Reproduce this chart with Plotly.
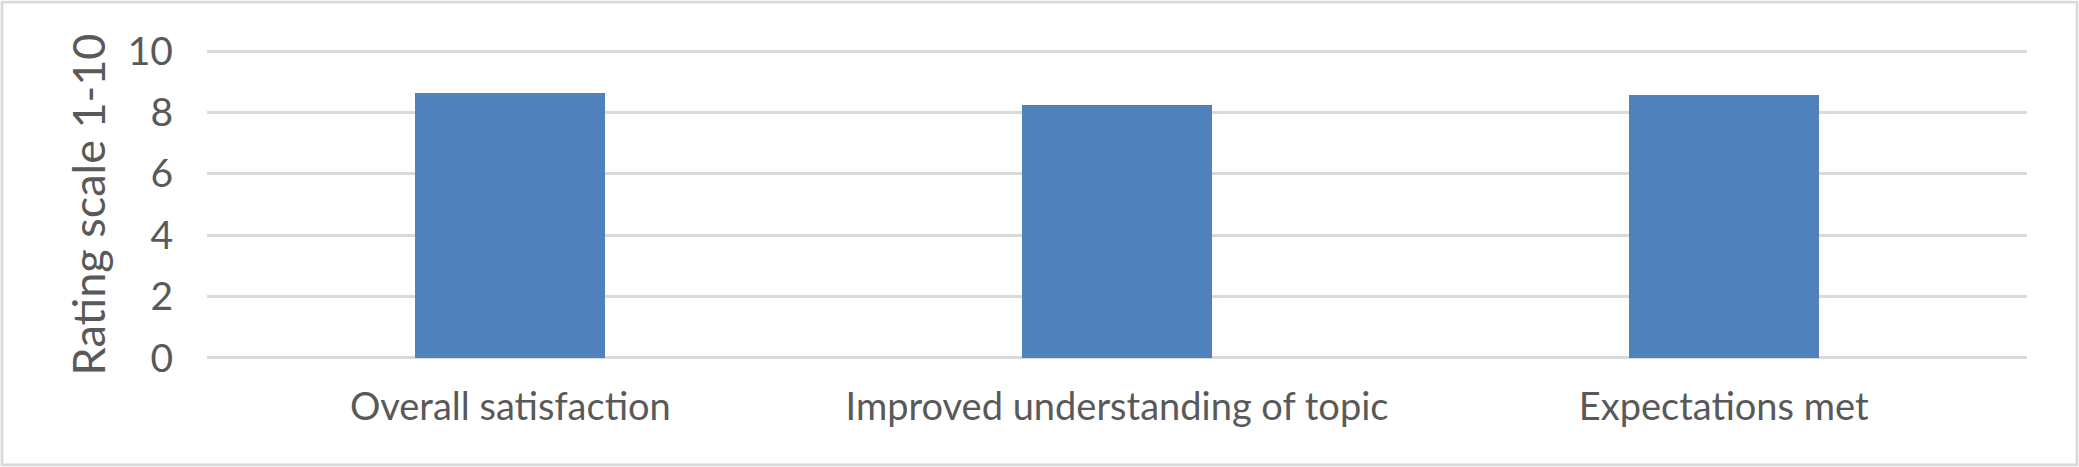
import plotly.graph_objects as go

categories = ["Overall satisfaction", "Improved understanding of topic", "Expectations met"]
ratings = [8.65, 8.25, 8.57]
y_ticks = [0, 2, 4, 6, 8, 10]
y_title = "Rating scale 1-10"

W, H = 2079, 467
PAD = 0.1
PXU = 30.7
L, R = 207, 52
T = 51 - PAD * PXU
B = 109 - PAD * PXU
FONT = "Lato"
TXT = "#595959"
GRID = "#d9d9d9"

fig = go.Figure(go.Bar(x=categories, y=ratings, marker=dict(color="#4f81bd", line=dict(width=0)),
                       width=0.313))

pw = W - L - R
ph = H - T - B
fig.update_layout(
    width=W, height=H,
    margin=dict(l=L, r=R, t=T, b=B, pad=0),
    paper_bgcolor="white", plot_bgcolor="white",
    showlegend=False,
    font=dict(family=FONT, color=TXT, size=38),
    bargap=0,
    xaxis=dict(showgrid=False, showline=False, ticks="", zeroline=False,
               tickfont=dict(size=38, color=TXT, family=FONT), ticklabelstandoff=20),
    yaxis=dict(range=[-PAD, 10 + PAD], tickvals=y_ticks, showgrid=True, gridcolor=GRID, gridwidth=2.7,
               zeroline=False, showline=False, ticks="",
               tickfont=dict(size=39, color=TXT, family=FONT), ticklabelstandoff=33,
               title=dict(text=y_title, font=dict(size=45, color=TXT, family=FONT), standoff=8)),
    shapes=[dict(type="rect", xref="paper", yref="paper",
                 x0=(2 - L) / pw, x1=(W - 2 - L) / pw,
                 y0=-(H - 2 - (H - B)) / ph, y1=(H - B - 2) / ph,
                 line=dict(color=GRID, width=2.7), fillcolor="rgba(0,0,0,0)", layer="below")],
)
fig.write_html("out.html", config={"displayModeBar": False},
               post_script="document.body.style.margin='0';document.body.style.overflow='hidden';")
